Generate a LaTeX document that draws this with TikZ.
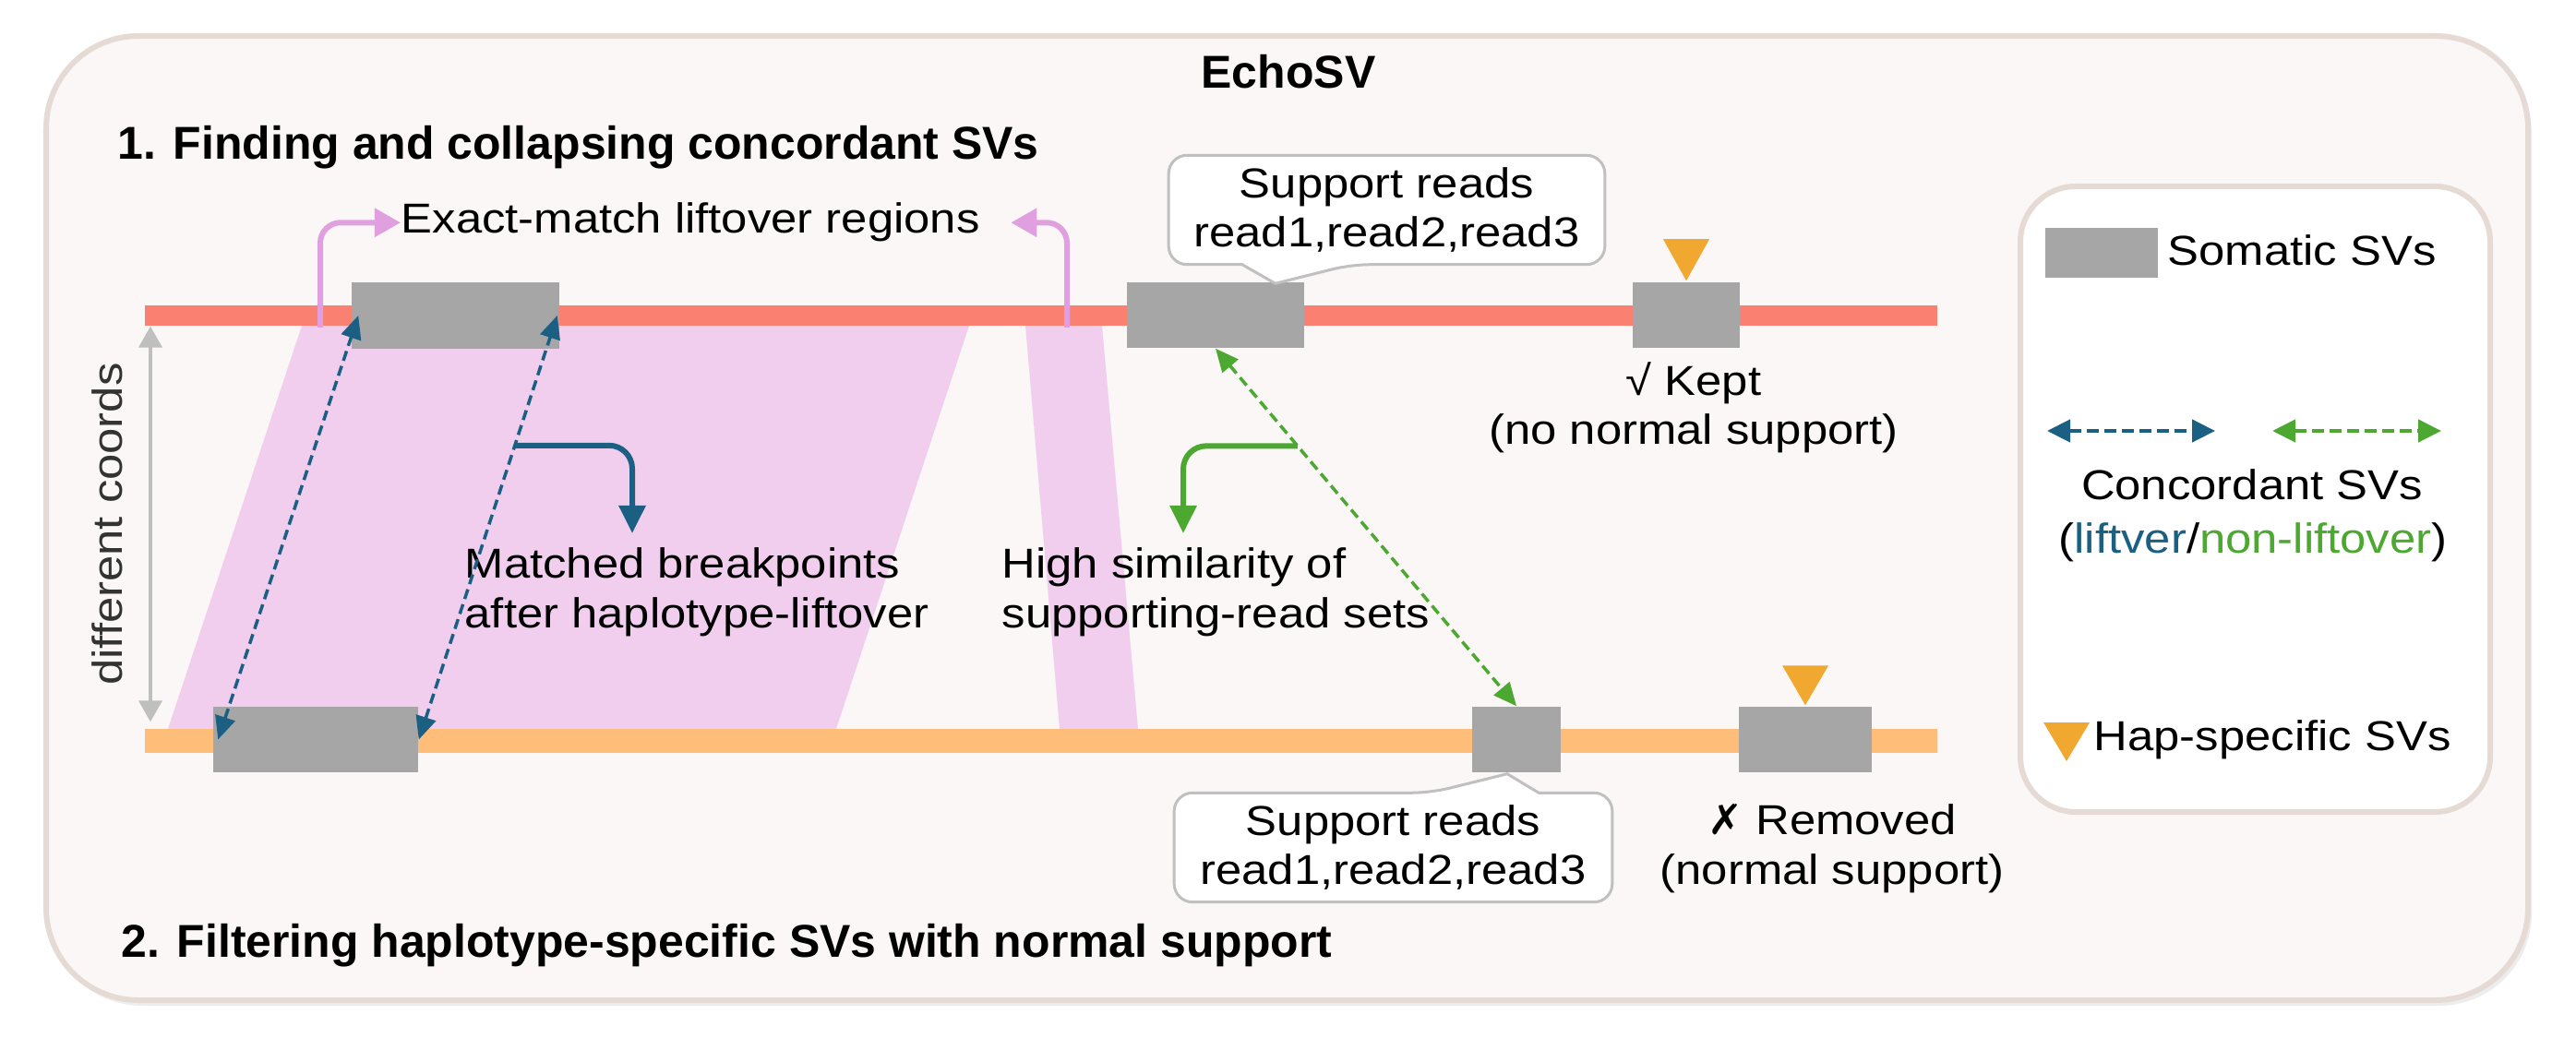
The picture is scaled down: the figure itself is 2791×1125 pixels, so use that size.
\documentclass[tikz,border=0pt]{standalone}
\usepackage{fontspec}
\setmainfont{Liberation Sans}
\newfontfamily\widef{Liberation Sans}[FakeStretch=1.12]
\newfontfamily\symf{DejaVu Sans}
\usetikzlibrary{arrows.meta,calc}
\definecolor{bgc}{HTML}{FAF7F6}
\definecolor{framec}{HTML}{E6DBD4}
\definecolor{cred}{HTML}{FA8072}
\definecolor{corange}{HTML}{FEBE7A}
\definecolor{svgray}{HTML}{A6A6A6}
\definecolor{hapor}{HTML}{F0A830}
\definecolor{cblue}{HTML}{1B5F83}
\definecolor{cgreen}{HTML}{4DA832}
\definecolor{pinkf}{HTML}{F2CEEE}
\definecolor{pinkarr}{HTML}{E0A0E0}
\definecolor{coordgray}{HTML}{BFBFBF}
\definecolor{callgray}{HTML}{C0C0C0}
\begin{document}
\begin{tikzpicture}[x=0.01cm,y=-0.01cm,
  txt/.style={inner sep=0pt, font=\widef\fontsize{12.9}{15.1}\selectfont},
  ttl/.style={inner sep=0pt, font=\bfseries\fontsize{14.2}{17}\selectfont},
  svbox/.style={fill=svgray, inner sep=0pt, minimum height=0.71cm},
  barnode/.style={inner sep=0pt, minimum width=19.40cm},
  bdash/.style={cblue, line width=0.035cm, dash pattern=on 0.11cm off 0.06cm, <->, >={Triangle[length=0.25cm,width=0.22cm]}},
  gdash/.style={bdash, cgreen},
  ldash/.style={line width=0.045cm, dash pattern=on 0.13cm off 0.06cm, <->, >={Triangle[length=0.25cm,width=0.24cm]}},
  elbow/.style={line width=0.06cm, rounded corners=0.25cm, -{Triangle[length=0.3cm,width=0.28cm]}},
  pinkel/.style={pinkarr, line width=0.06cm, rounded corners=0.22cm, -{Triangle[length=0.28cm,width=0.3cm]}},
  frame/.style={draw=framec, line width=0.06cm},
  callline/.style={draw=callgray, line width=0.03cm, fill=white, rounded corners=0.2cm},
  boxonly/.style={inner sep=0pt, minimum height=1.17cm}
]
\useasboundingbox (0,0) rectangle (2791,1125);
\fill[white] (0,0) rectangle (2791,1125);
% outer frame
\fill[black!7, rounded corners=1cm] (54,45) rectangle (2743,1090);
\draw[frame, fill=bgc, rounded corners=1cm] (50,39) rectangle (2739,1084);
\node[ttl, anchor=base] (title) at (1396,96) {EchoSV};
\node[ttl, anchor=base west] (sec1) at (127,173) {1. Finding and collapsing concordant SVs};
\node[ttl, anchor=base west] (sec2) at (131,1037) {2. Filtering haplotype-specific SVs with normal support};
% legend
\draw[frame, fill=white, rounded corners=0.6cm] (2189,202) rectangle (2698,880);
\node[svbox, minimum width=1.22cm, minimum height=0.53cm] (lsv) at (2277,274) {};
\node[txt, anchor=base west] (lsvt) at (2348,288) {Somatic SVs};
\coordinate (lb1) at (2218,467); \coordinate (lb2) at (2400,467);
\coordinate (lg1) at (2462,467); \coordinate (lg2) at (2645,467);
\draw[ldash, cblue] (lb1) -- (lb2);
\draw[ldash, cgreen] (lg1) -- (lg2);
\node[txt, anchor=base] (lconc) at (2440,542) {Concordant SVs};
\node[txt, anchor=base] (lconc2) at (2441,600) {(\textcolor{cblue}{liftver}/\textcolor{cgreen}{non-liftover})};
\fill[hapor] (2214,783) -- (2264,783) -- (2239,825) -- cycle;
\node[txt, anchor=base west] (lhap) at (2268,814) {Hap-specific SVs};
% pink regions
\fill[pinkf] (327,353) -- (1050,353) -- (906,790) -- (182,790) -- cycle;
\fill[pinkf] (1111,353) -- (1194,353) -- (1233,790) -- (1148,790) -- cycle;
% bars
\node[barnode, fill=cred, minimum height=0.22cm] (rbar) at (1128,342) {};
\node[barnode, fill=corange, minimum height=0.26cm] (obar) at (1128,803) {};
% SV boxes
\node[svbox, minimum width=2.25cm] (t1) at (493.5,342) {};
\node[svbox, minimum width=1.92cm] (t2) at (1317,341.5) {};
\node[svbox, minimum width=1.16cm] (t3) at (1827,341.5) {};
\node[svbox, minimum width=2.22cm] (b1) at (342,801.5) {};
\node[svbox, minimum width=0.96cm] (b2) at (1643,801.5) {};
\node[svbox, minimum width=1.44cm] (b3) at (1956,801.5) {};
% hap-specific markers
\fill[hapor] ([xshift=-0.25cm,yshift=0.46cm]t3.north) -- ([xshift=0.25cm,yshift=0.46cm]t3.north) -- ([yshift=0.01cm]t3.north) -- cycle;
\fill[hapor] ([xshift=-0.25cm,yshift=0.44cm]b3.north) -- ([xshift=0.25cm,yshift=0.44cm]b3.north) -- ([yshift=0.01cm]b3.north) -- cycle;
% different coords
\coordinate (cx) at (163,0);
\draw[coordgray, line width=0.04cm, <->, >={Triangle[length=0.23cm,width=0.25cm]}] (rbar.south -| cx) -- ($(obar.north -| cx)+(0,-7)$);
\node[txt, rotate=90, text=black!80] (coords) at (116,568) {different coords};
% texts
\node[txt, anchor=base west] (exact) at (434,253) {Exact-match liftover regions};
\node[txt, anchor=base west, align=left] (matched) at (503,680) {Matched breakpoints\\after haplotype-liftover};
\node[txt, anchor=base west, align=left] (highsim) at (1085,680) {High similarity of\\supporting-read sets};
\node[txt, anchor=base, align=center] (kept) at (1835,482) {√ Kept\\(no normal support)};
\node[txt, anchor=base, align=center] (removed) at (1985,958) {{\symf ✗} Removed\\(normal support)};
% concordant arrows
\draw[bdash] ([xshift=0.06cm]b1.west) -- ([xshift=0.08cm]t1.west);
\draw[bdash] (b1.east) -- coordinate[pos=0.6935] (bm) ([xshift=-0.03cm]t1.east);
\draw[gdash] (t2.south) -- coordinate[pos=0.2725] (gm) (b2.north);
\coordinate (bt) at (685,578);
\coordinate (gt) at (1282,578);
\draw[elbow, cblue] (bm) -| (bt);
\draw[elbow, cgreen] (gm) -| (gt);
% pink arrows
\coordinate (pl) at (347,355);
\coordinate (pr) at (1156,355);
\draw[pinkel] (pl) |- (exact.west);
\draw[pinkel] (pr) |- ([xshift=0.33cm]exact.east);
% callouts
\node[boxonly, minimum width=4.71cm] (c1) at (1502.5,227.5) {};
\draw[callline] (c1.west) -- (c1.north west) -- (c1.north east) -- (c1.south east) -- ([xshift=-0.385cm]c1.south) [sharp corners] -- ([xshift=-0.32cm,yshift=-0.02cm]t2.north east) -- ([xshift=-1.565cm]c1.south) [rounded corners=0.2cm] -- (c1.south west) -- cycle;
\node[txt, align=center] (c1t) at (c1) {Support reads\\read1,read2,read3};
\node[boxonly, minimum width=4.73cm] (c2) at (1509.5,918.5) {};
\draw[callline] (c2.west) -- (c2.north west) -- ([xshift=0.405cm]c2.north) [sharp corners] -- ([xshift=-0.1cm,yshift=-0.01cm]b2.south) -- ([xshift=1.575cm]c2.north) [rounded corners=0.2cm] -- (c2.north east) -- (c2.south east) -- (c2.south west) -- cycle;
\node[txt, align=center] (c2t) at (c2) {Support reads\\read1,read2,read3};
\end{tikzpicture}
\end{document}
